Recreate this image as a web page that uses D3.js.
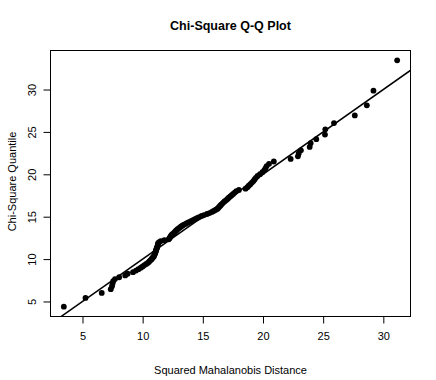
<!DOCTYPE html>
<html>
<head>
<meta charset="utf-8">
<script src="https://cdn.jsdelivr.net/npm/d3@7"></script>
<style>
    body { margin: 0; background: #fff; }
    text { font-family: "Liberation Sans", Arial, sans-serif; fill: #000; }
</style>
</head>
<body>
<div id="chart"></div>
<script>
// sorted squared mahalanobis distances (x)
var distances = [
    3.45, 5.25, 6.6, 7.35, 7.45, 7.5, 7.55, 7.7, 8.05, 8.55,
    8.75, 9.2, 9.45, 9.65, 9.85, 10.0, 10.15, 10.3, 10.45, 10.55,
    10.65, 10.75, 10.8, 10.9, 10.95, 10.98, 11.02, 11.05, 11.08, 11.1,
    11.13, 11.16, 11.19, 11.22, 11.24, 11.26, 11.28, 11.3, 11.38, 11.5,
    11.8, 12.17, 12.22, 12.27, 12.32, 12.36, 12.42, 12.5, 12.6, 12.68,
    12.75, 12.82, 12.9, 13.0, 13.1, 13.2, 13.32, 13.45, 13.6, 13.75,
    13.9, 14.05, 14.22, 14.38, 14.55, 14.7, 14.9, 15.1, 15.35, 15.55,
    15.75, 15.9, 16.05, 16.2, 16.28, 16.37, 16.45, 16.52, 16.62, 16.72,
    16.82, 16.95, 17.05, 17.15, 17.28, 17.4, 17.52, 17.65, 17.78, 18.0,
    18.55, 18.7, 18.82, 18.95, 19.08, 19.2, 19.3, 19.4, 19.55, 19.75,
    19.95, 20.1, 20.2, 20.3, 20.5, 20.9, 22.3, 22.9, 22.97, 23.15,
    23.88, 23.96, 24.43, 25.15, 25.18, 25.9, 27.63, 28.63, 29.18, 31.15
];

// matching chi-square quantiles (y)
var quantiles = [
    4.39, 5.42, 6.01, 6.45, 6.81, 7.11, 7.39, 7.64, 7.86, 8.07,
    8.27, 8.46, 8.64, 8.81, 8.98, 9.14, 9.29, 9.43, 9.58, 9.72,
    9.86, 9.99, 10.13, 10.26, 10.38, 10.51, 10.63, 10.75, 10.87, 10.99,
    11.11, 11.22, 11.34, 11.45, 11.56, 11.68, 11.79, 11.90, 12.01, 12.12,
    12.23, 12.34, 12.45, 12.55, 12.66, 12.77, 12.88, 12.98, 13.09, 13.20,
    13.31, 13.41, 13.52, 13.63, 13.74, 13.85, 13.96, 14.07, 14.18, 14.29,
    14.40, 14.51, 14.62, 14.73, 14.85, 14.96, 15.08, 15.19, 15.32, 15.43,
    15.56, 15.67, 15.79, 15.92, 16.04, 16.17, 16.30, 16.42, 16.55, 16.69,
    16.82, 16.96, 17.10, 17.24, 17.39, 17.54, 17.68, 17.84, 18.00, 18.15,
    18.31, 18.48, 18.66, 18.83, 19.02, 19.20, 19.39, 19.59, 19.80, 20.02,
    20.24, 20.47, 20.71, 20.97, 21.23, 21.51, 21.81, 22.12, 22.46, 22.83,
    23.23, 23.66, 24.14, 24.69, 25.31, 26.04, 26.94, 28.13, 29.86, 33.44
];

var xTicks = [5, 10, 15, 20, 25, 30];
var yTicks = [5, 10, 15, 20, 25, 30];

var width = 436, height = 380;
var box = { left: 50.5, right: 410.5, top: 50.5, bottom: 316.5 };

var points = distances.map(function(d, i) { return { x: d, y: quantiles[i] }; });

// R style 4% padding around the data range
function padded(ext) {
    var p = (ext[1] - ext[0]) * 0.04;
    return [ext[0] - p, ext[1] + p];
}

var x = d3.scaleLinear()
    .domain(padded(d3.extent(distances)))
    .range([box.left, box.right]);
var y = d3.scaleLinear()
    .domain(padded(d3.extent(quantiles)))
    .range([box.bottom, box.top]);

var svg = d3.select('#chart').append('svg')
    .attr('width', width)
    .attr('height', height);

svg.append('defs').append('clipPath')
    .attr('id', 'plotclip')
  .append('rect')
    .attr('x', box.left)
    .attr('y', box.top)
    .attr('width', box.right - box.left)
    .attr('height', box.bottom - box.top);

// reference line y = x
var lo = Math.min(x.domain()[0], y.domain()[0]),
    hi = Math.max(x.domain()[1], y.domain()[1]);
svg.append('line')
    .attr('clip-path', 'url(#plotclip)')
    .attr('x1', x(lo))
    .attr('y1', y(lo))
    .attr('x2', x(hi))
    .attr('y2', y(hi))
    .attr('stroke', '#000')
    .attr('stroke-width', 1.5);

// points
svg.append('g').selectAll('circle')
        .data(points)
    .enter().append('circle')
        .attr('cx', function(d) { return x(d.x); })
        .attr('cy', function(d) { return y(d.y); })
        .attr('r', 2.9)
        .attr('fill', '#000');

// axes
var xAxis = svg.append('g')
    .attr('transform', 'translate(0,' + box.bottom + ')')
    .call(d3.axisBottom(x).tickValues(xTicks).tickSize(7).tickPadding(9));
var yAxis = svg.append('g')
    .attr('transform', 'translate(' + box.left + ',0)')
    .call(d3.axisLeft(y).tickValues(yTicks).tickSize(7).tickPadding(8));

[xAxis, yAxis].forEach(function(a) {
    a.select('.domain').remove();
    a.selectAll('text').style('font-size', '11px').attr('fill', '#000')
        .style('font-family', '"Liberation Sans", Arial, sans-serif');
    a.selectAll('line').attr('stroke', '#000');
});

// y tick labels are rotated like R's default
yAxis.selectAll('.tick text')
    .attr('x', null)
    .attr('dy', null)
    .attr('text-anchor', 'middle')
    .attr('transform', 'translate(-15,0) rotate(-90)');

// plot box
svg.append('rect')
    .attr('x', box.left)
    .attr('y', box.top)
    .attr('width', box.right - box.left)
    .attr('height', box.bottom - box.top)
    .attr('fill', 'none')
    .attr('stroke', '#000')
    .attr('stroke-width', 1);

// titles
svg.append('text')
    .attr('x', (box.left + box.right) / 2)
    .attr('y', 30)
    .attr('text-anchor', 'middle')
    .style('font-size', '12.5px')
    .style('font-weight', 'bold')
    .text('Chi-Square Q-Q Plot');

svg.append('text')
    .attr('x', (box.left + box.right) / 2)
    .attr('y', 374)
    .attr('text-anchor', 'middle')
    .style('font-size', '11px')
    .text('Squared Mahalanobis Distance');

svg.append('text')
    .attr('transform', 'translate(16,' + ((box.top + box.bottom) / 2 - 2) + ') rotate(-90)')
    .attr('text-anchor', 'middle')
    .style('font-size', '11px')
    .text('Chi-Square Quantile');
</script>
</body>
</html>
